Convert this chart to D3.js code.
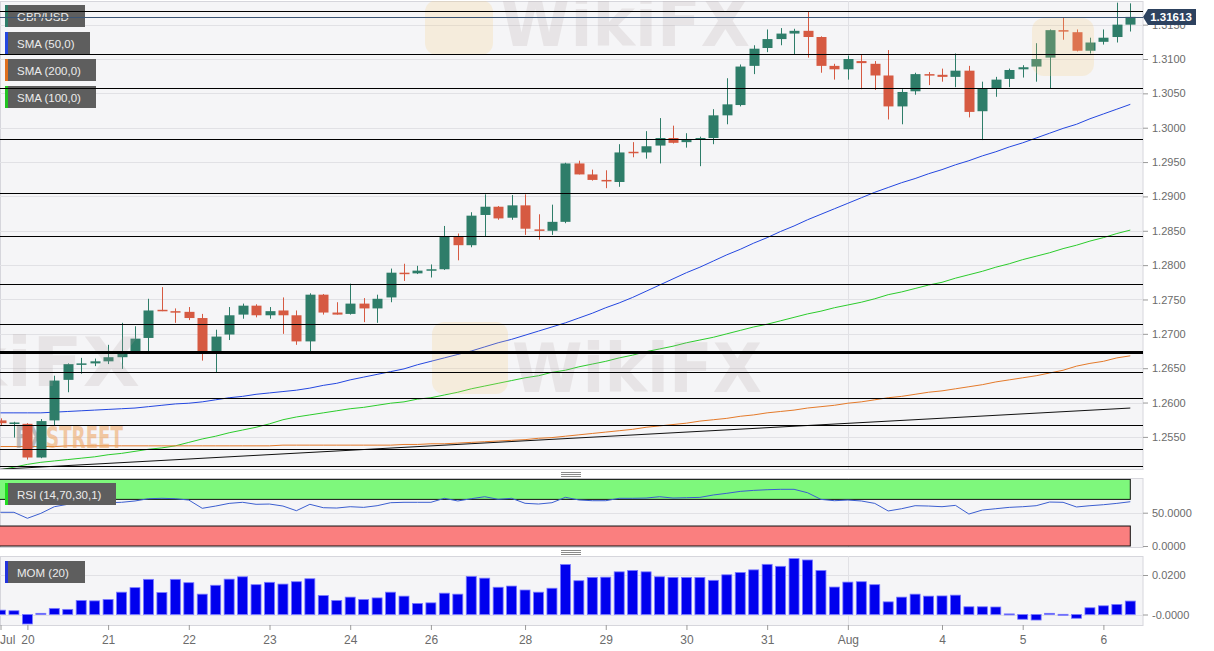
<!DOCTYPE html>
<html>
<head>
<meta charset="utf-8">
<script src="https://cdn.jsdelivr.net/npm/d3@7"></script>
<style>
  html, body { margin: 0; padding: 0; background: #fff; }
  svg { display: block; font-family: "Liberation Sans", Arial, sans-serif; }
  .axis path.domain { display: none; }
  .axis line { stroke: #9a9a9a; }
  .axis text { fill: #6b6b6b; font-size: 11px; }
</style>
</head>
<body>
<svg id="chart" width="1214" height="651"></svg>
<script>
// GBP/USD 4h candles, Jul 20 - Aug 6
const opens = [1.2574,1.2570,1.2569,1.2520,1.2574,1.2633,1.2656,1.2657,1.2660,1.2666,
  1.2674,1.2694,1.2735,1.2733,1.2732,1.2723,1.2674,1.2699,1.2728,1.2741,
  1.2727,1.2734,1.2727,1.2689,1.2757,1.2731,1.2729,1.2744,1.2737,1.2753,
  1.2789,1.2788,1.2792,1.2794,1.2841,1.2829,1.2873,1.2885,1.2869,1.2887,
  1.2852,1.2850,1.2863,1.2948,1.2932,1.2924,1.2921,1.2965,1.2964,1.2974,
  1.2985,1.2979,1.2984,1.2985,1.3018,1.3033,1.3090,1.3116,1.3129,1.3137,
  1.3141,1.3132,1.3090,1.3085,1.3097,1.3093,1.3076,1.3031,1.3053,1.3078,
  1.3077,1.3074,1.3083,1.3024,1.3057,1.3071,1.3085,1.3089,1.3102,1.3142,
  1.3139,1.3112,1.3125,1.3132,1.3150];
const highs = [1.2577,1.2572,1.2570,1.2576,1.2639,1.2657,1.2665,1.2664,1.2684,1.2716,
  1.2711,1.2751,1.2768,1.2737,1.2739,1.2729,1.2706,1.2739,1.2744,1.2743,
  1.2739,1.2753,1.2734,1.2759,1.2758,1.2746,1.2773,1.2752,1.2757,1.2795,
  1.2802,1.2799,1.2801,1.2857,1.2846,1.2877,1.2903,1.2886,1.2902,1.2903,
  1.2874,1.2888,1.2949,1.2952,1.2939,1.2938,1.2976,1.2979,1.2995,1.3014,
  1.3003,1.2992,1.2987,1.3027,1.3072,1.3092,1.3120,1.3143,1.3145,1.3144,
  1.3169,1.3133,1.3093,1.3105,1.3106,1.3097,1.3113,1.3056,1.3080,1.3081,
  1.3086,1.3108,1.3090,1.3067,1.3074,1.3086,1.3091,1.3123,1.3143,1.3161,
  1.3143,1.3131,1.3143,1.3182,1.3181];
const lows = [1.2566,1.2549,1.2517,1.2519,1.2566,1.2615,1.2642,1.2653,1.2656,1.2649,
  1.2671,1.2675,1.2733,1.2716,1.2720,1.2661,1.2644,1.2691,1.2722,1.2724,
  1.2722,1.2700,1.2684,1.2675,1.2728,1.2728,1.2728,1.2717,1.2716,1.2746,
  1.2777,1.2787,1.2782,1.2793,1.2807,1.2826,1.2842,1.2866,1.2866,1.2844,
  1.2837,1.2844,1.2861,1.2932,1.2923,1.2912,1.2914,1.2957,1.2955,1.2948,
  1.2977,1.2971,1.2944,1.2976,1.3005,1.3031,1.3078,1.3110,1.3120,1.3106,
  1.3102,1.3080,1.3070,1.3070,1.3056,1.3055,1.3012,1.3005,1.3048,1.3062,
  1.3067,1.3059,1.3015,1.2982,1.3045,1.3059,1.3073,1.3067,1.3057,1.3128,
  1.3111,1.3108,1.3121,1.3124,1.3140];
const closes = [1.2570,1.2571,1.2520,1.2573,1.2632,1.2656,1.2657,1.2660,1.2666,1.2671,
  1.2693,1.2734,1.2733,1.2731,1.2723,1.2674,1.2696,1.2727,1.2741,1.2727,
  1.2733,1.2727,1.2689,1.2757,1.2731,1.2728,1.2744,1.2737,1.2751,1.2789,
  1.2787,1.2792,1.2794,1.2841,1.2829,1.2872,1.2885,1.2868,1.2887,1.2853,
  1.2850,1.2863,1.2948,1.2932,1.2924,1.2922,1.2964,1.2963,1.2973,1.2985,
  1.2978,1.2983,1.2985,1.3018,1.3034,1.3089,1.3115,1.3129,1.3137,1.3141,
  1.3132,1.3090,1.3085,1.3100,1.3094,1.3076,1.3031,1.3052,1.3078,1.3077,
  1.3074,1.3083,1.3023,1.3057,1.3070,1.3084,1.3088,1.3100,1.3142,1.3140,
  1.3112,1.3124,1.3131,1.3150,1.31613];

const sma50 = [1.2585,1.2585,1.2585,1.2585,1.2586,1.2587,1.2588,1.2589,1.2590,1.2591,
  1.2592,1.2594,1.2596,1.2598,1.2599,1.2601,1.2604,1.2607,1.2609,1.2612,
  1.2614,1.2616,1.2618,1.2621,1.2625,1.2628,1.2633,1.2637,1.2641,1.2645,
  1.2649,1.2655,1.2660,1.2665,1.2670,1.2675,1.2681,1.2687,1.2692,1.2698,
  1.2704,1.2710,1.2716,1.2723,1.2730,1.2738,1.2745,1.2753,1.2762,1.2771,
  1.2780,1.2789,1.2797,1.2806,1.2815,1.2823,1.2832,1.2840,1.2849,1.2857,
  1.2866,1.2874,1.2882,1.2890,1.2898,1.2906,1.2913,1.2920,1.2926,1.2933,
  1.2939,1.2946,1.2952,1.2959,1.2965,1.2972,1.2978,1.2985,1.2992,1.2999,
  1.3005,1.3013,1.3020,1.3027,1.3034];
const sma100 = [1.2502,1.2506,1.2510,1.2513,1.2515,1.2517,1.2519,1.2521,1.2524,1.2526,
  1.2529,1.2532,1.2534,1.2537,1.2542,1.2547,1.2551,1.2556,1.2560,1.2564,
  1.2569,1.2575,1.2579,1.2582,1.2585,1.2588,1.2591,1.2593,1.2596,1.2599,
  1.2601,1.2605,1.2607,1.2611,1.2615,1.2620,1.2624,1.2628,1.2632,1.2636,
  1.2639,1.2644,1.2647,1.2652,1.2656,1.2660,1.2665,1.2669,1.2674,1.2678,
  1.2682,1.2687,1.2691,1.2695,1.2700,1.2705,1.2710,1.2714,1.2719,1.2724,
  1.2729,1.2733,1.2738,1.2742,1.2746,1.2751,1.2757,1.2761,1.2766,1.2771,
  1.2775,1.2781,1.2786,1.2791,1.2797,1.2802,1.2808,1.2813,1.2818,1.2824,
  1.2829,1.2835,1.2840,1.2846,1.2851];
const sma200 = [1.2536,1.2536,1.2536,1.2536,1.2536,1.2537,1.2537,1.2537,1.2537,1.2537,
  1.2537,1.2537,1.2537,1.2537,1.2537,1.2537,1.2537,1.2537,1.2537,1.2537,
  1.2537,1.2538,1.2538,1.2538,1.2538,1.2538,1.2538,1.2538,1.2538,1.2538,
  1.2539,1.2539,1.2540,1.2540,1.2541,1.2542,1.2543,1.2544,1.2545,1.2546,
  1.2548,1.2549,1.2551,1.2553,1.2555,1.2557,1.2559,1.2561,1.2564,1.2566,
  1.2568,1.2570,1.2573,1.2575,1.2577,1.2580,1.2582,1.2585,1.2587,1.2589,
  1.2592,1.2594,1.2596,1.2599,1.2601,1.2604,1.2607,1.2609,1.2612,1.2615,
  1.2617,1.2620,1.2623,1.2626,1.2630,1.2633,1.2636,1.2639,1.2643,1.2647,
  1.2653,1.2657,1.2660,1.2665,1.2668];

const rsi = [50.6,50.6,41.6,49,59,62.6,64,64,65,65.6,
  67.6,71,71.6,71,69,56.6,60,64,65.6,62.6,
  63,60,53,62.6,57.5,57,59,58,60.5,65,
  65.6,65.6,65.6,71.6,67.6,71,74,70.1,71.6,64.1,
  63,65,73.1,69.1,68,68,71.6,71.6,72,74,
  72,72.5,73,76.6,79.1,82,83.5,84.5,85.1,85.1,
  80,70,68,69,67.6,64,52.6,56,60.5,60,
  59,61,48,54,56,58,59,60.5,66,65.6,
  58.6,60.5,62,64,66.5];
const mom = [0.0022,0.0019,-0.0048,0.0006,0.0031,0.0026,0.0071,0.0069,0.0076,0.0113,
  0.0136,0.0178,0.0111,0.0178,0.0161,0.0103,0.0148,0.0179,0.0191,0.0151,
  0.0163,0.0154,0.0166,0.0181,0.0096,0.0071,0.0088,0.0076,0.0084,0.0113,
  0.0093,0.0056,0.0059,0.0108,0.0103,0.0193,0.0184,0.0138,0.0144,0.0124,
  0.0113,0.0133,0.0253,0.0171,0.0188,0.0189,0.0216,0.0223,0.0216,0.0191,
  0.0188,0.0188,0.0188,0.0173,0.0201,0.0213,0.0226,0.0254,0.0244,0.0283,
  0.0276,0.0223,0.0139,0.0164,0.0166,0.0151,0.0064,0.0088,0.0103,0.0093,
  0.0094,0.0098,0.0039,0.0039,0.0038,0.0003,-0.0024,-0.0028,0.0006,0.0001,
  -0.0019,0.0034,0.0044,0.0051,0.0068];

// horizontal levels drawn on the chart
const levels = [1.3170,1.3107,1.3058,1.2983,1.2905,1.2842,1.2772,1.2715,1.2644,1.2607,1.2568,1.2533,1.2507];
const boldLevel = 1.2673;
const trendIdx = [0, 84];
const trendVal = [1.2503, 1.2592];
const lastPrice = 1.31613;

const priceTicks = [1.2550,1.2600,1.2650,1.2700,1.2750,1.2800,1.2850,1.2900,1.2950,1.3000,1.3050,1.3100,1.3150];
const rsiTicks = [0, 50];
const momTicks = [0, 0.02];
const dayIdx = [0, 2, 8, 14, 20, 26, 32, 39, 45, 51, 57, 63, 70, 76, 82];
const dayLabels = ["Jul", "20", "21", "22", "23", "24", "26", "28", "29", "30", "31", "Aug", "4", "5", "6"];
const monthIdx = 63;

const legendLabels = ["GBP/USD", "SMA (50,0)", "SMA (200,0)", "SMA (100,0)"];
const legendColors = ["#2e7d69", "#2447e0", "#e0701e", "#22c422"];

// layout
const plotRight = 1143;
const mainTop = 1, mainBottom = 469;
const rsiTop = 478, rsiBottom = 547;
const momTop = 556, momBottom = 625;

const UP = "#2e7d69", DOWN = "#d65a42";

const svg = d3.select("#chart");

const x = d3.scaleLinear().domain([0, 84]).range([0.5, 1130.3]);
const y = d3.scaleLinear().domain([1.2550, 1.3100]).range([436.9, 59]);
const yRsi = d3.scaleLinear().domain([0, 100]).range([546, 479.4]);
const yMom = d3.scaleLinear().domain([0, 0.02]).range([614.5, 575]);

// panels + clip paths
const defs = svg.append("defs");
[["clipMain", mainTop, mainBottom], ["clipRsi", rsiTop, rsiBottom], ["clipMom", momTop, momBottom]].forEach(([id, t, b]) => {
    svg.append("rect")
        .attr("x", 0.5).attr("y", t + 0.5)
        .attr("width", plotRight - 0.5).attr("height", b - t)
        .attr("fill", "#f5f5f7").attr("stroke", "#d6d6dc");
    defs.append("clipPath").attr("id", id)
        .append("rect").attr("x", 0).attr("y", t).attr("width", plotRight).attr("height", b - t);
});

// gridlines
const grid = svg.append("g").attr("stroke", "#e1e1e5").attr("stroke-width", 1);
priceTicks.forEach(v => grid.append("line")
    .attr("x1", 0).attr("x2", plotRight).attr("y1", Math.round(y(v)) + 0.5).attr("y2", Math.round(y(v)) + 0.5));
grid.append("line").attr("x1", 0).attr("x2", plotRight)
    .attr("y1", Math.round(yRsi(50)) + 0.5).attr("y2", Math.round(yRsi(50)) + 0.5);
momTicks.forEach(v => grid.append("line")
    .attr("x1", 0).attr("x2", plotRight).attr("y1", Math.round(yMom(v)) + 0.5).attr("y2", Math.round(yMom(v)) + 0.5));
[[mainTop, mainBottom], [rsiTop, rsiBottom], [momTop, momBottom]].forEach(([t, b]) => {
    grid.append("line").attr("x1", Math.round(x(monthIdx)) + 0.5).attr("x2", Math.round(x(monthIdx)) + 0.5)
        .attr("y1", t).attr("y2", b);
});

// ── main price panel ──────────────────────────
const main = svg.append("g").attr("clip-path", "url(#clipMain)");

const line = arr => d3.line().x((d, i) => x(i)).y(d => y(d))(arr);

main.append("path").attr("d", line(sma100)).attr("fill", "none").attr("stroke", "#2ccc2c").attr("stroke-width", 1);
main.append("path").attr("d", line(sma200)).attr("fill", "none").attr("stroke", "#e47a2a").attr("stroke-width", 1);
main.append("path").attr("d", line(sma50)).attr("fill", "none").attr("stroke", "#2447e0").attr("stroke-width", 1);
main.append("line")
    .attr("x1", x(trendIdx[0])).attr("y1", y(trendVal[0]))
    .attr("x2", x(trendIdx[1])).attr("y2", y(trendVal[1]))
    .attr("stroke", "#111").attr("stroke-width", 1);

// FXStreet mark, as two pieces side by side
[["FX", 15, 30, "#8d8d8d"], ["STREET", 46, 77, "#eea35e"]].forEach(([t, tx, tw, col]) => {
    main.append("text").attr("x", tx).attr("y", 448)
        .attr("font-family", "'Liberation Sans Narrow', 'DejaVu Sans Condensed', sans-serif")
        .attr("font-weight", "bold").attr("font-size", 30).attr("opacity", 0.55)
        .attr("textLength", tw).attr("lengthAdjust", "spacingAndGlyphs")
        .attr("fill", col).text(t);
});

// candles
const candles = main.append("g");
opens.forEach((o, i) => {
    const c = closes[i];
    const col = c >= o ? UP : DOWN;
    const cx = Math.round(x(i)) + 0.5;
    candles.append("line")
        .attr("x1", cx).attr("x2", cx)
        .attr("y1", y(highs[i])).attr("y2", y(lows[i]))
        .attr("stroke", col).attr("stroke-width", 1);
    const top = y(Math.max(o, c)), bot = y(Math.min(o, c));
    candles.append("rect")
        .attr("x", cx - 5).attr("width", 10)
        .attr("y", top).attr("height", Math.max(1.5, bot - top))
        .attr("fill", col);
});

// watermarks (faint)
const wm = svg.append("g").attr("pointer-events", "none").attr("clip-path", "url(#clipMain)");
[[425, 0, 68, 55], [432, 322, 76, 72], [1032, 18, 62, 58]].forEach(([lx, ly, lw, lh]) => {
    wm.append("rect").attr("x", lx).attr("y", ly).attr("width", lw).attr("height", lh).attr("rx", 12)
        .attr("fill", "#f4cf80").attr("opacity", 0.22);
});
[[500, 46, 250], [512, 392, 250], [-150, 386, 290]].forEach(([tx, ty, tw]) => {
    wm.append("text").attr("x", tx).attr("y", ty)
        .attr("font-family", "'DejaVu Sans', sans-serif").attr("font-weight", "bold").attr("font-size", 68)
        .attr("textLength", tw).attr("lengthAdjust", "spacingAndGlyphs")
        .attr("fill", "#b3a4a4").attr("opacity", 0.2).text("WikiFX");
});

// legend boxes (drawn under the level lines, like the original)
const legendW = [80, 85, 91, 91];
legendLabels.forEach((lab, i) => legend(5 + i * 27, legendW[i], lab, legendColors[i]));

function legend(top, w, label, color) {
    const g = svg.append("g").attr("transform", `translate(5,${top})`);
    g.append("rect").attr("width", w).attr("height", 22).attr("fill", "#5e5e5e");
    g.append("rect").attr("width", 3).attr("height", 22).attr("fill", color);
    g.append("text").attr("x", 12).attr("y", 15.5)
        .attr("fill", "#ececec").attr("font-size", 11.5).text(label);
}

// level lines
const lv = svg.append("g").attr("clip-path", "url(#clipMain)");
levels.forEach(v => lv.append("line")
    .attr("x1", 0).attr("x2", plotRight)
    .attr("y1", Math.round(y(v)) + 0.5).attr("y2", Math.round(y(v)) + 0.5)
    .attr("stroke", "#000").attr("stroke-width", 1.2));
lv.append("line").attr("x1", 0).attr("x2", plotRight)
    .attr("y1", y(boldLevel)).attr("y2", y(boldLevel))
    .attr("stroke", "#000").attr("stroke-width", 3);
lv.append("line").attr("x1", 0).attr("x2", plotRight)
    .attr("y1", Math.round(y(lastPrice)) + 0.5).attr("y2", Math.round(y(lastPrice)) + 0.5)
    .attr("stroke", "#3a5474").attr("stroke-width", 1);

// price axis
svg.append("g").attr("class", "axis")
    .attr("transform", `translate(${plotRight},0)`)
    .call(d3.axisRight(y).tickValues(priceTicks).tickSize(5).tickPadding(4).tickFormat(d3.format(".4f")))
    .attr("font-family", null).attr("font-size", null);

// last price marker
const yp = Math.round(y(lastPrice));
svg.append("path")
    .attr("d", `M${plotRight},${yp} L${plotRight + 5},${yp - 8} H1196 V${yp + 8} H${plotRight + 5} Z`)
    .attr("fill", "#2d425f");
svg.append("text").attr("x", 1171).attr("y", yp + 4)
    .attr("text-anchor", "middle").attr("fill", "#fff")
    .attr("font-size", 11.5).attr("font-weight", "bold").text(lastPrice.toFixed(5));

// ── RSI panel ──────────────────────────
const rp = svg.append("g").attr("clip-path", "url(#clipRsi)");
rp.append("rect").attr("x", -2).attr("width", x(84) + 2)
    .attr("y", yRsi(100)).attr("height", yRsi(70) - yRsi(100))
    .attr("fill", "#7ef87c").attr("stroke", "#111");
rp.append("rect").attr("x", -2).attr("width", x(84) + 2)
    .attr("y", yRsi(30)).attr("height", yRsi(0) - yRsi(30))
    .attr("fill", "#fa7f7f").attr("stroke", "#111");
rp.append("path")
    .attr("d", d3.line().x((d, i) => x(i)).y(d => yRsi(d))(rsi))
    .attr("fill", "none").attr("stroke", "#3b5ed0").attr("stroke-width", 1);
legend(483, 111, "RSI (14,70,30,1)", "#22dd22");

svg.append("g").attr("class", "axis")
    .attr("transform", `translate(${plotRight},0)`)
    .call(d3.axisRight(yRsi).tickValues(rsiTicks).tickSize(5).tickPadding(4).tickFormat(d3.format(".4f")))
    .attr("font-family", null).attr("font-size", null);

// ── MOM panel ──────────────────────────
const mp = svg.append("g").attr("clip-path", "url(#clipMom)");
mom.forEach((v, i) => {
    const y0 = yMom(0), y1 = yMom(v);
    mp.append("rect")
        .attr("x", x(i) - 5).attr("width", 10)
        .attr("y", Math.min(y0, y1)).attr("height", Math.max(1, Math.abs(y1 - y0)))
        .attr("fill", "#0000ee").attr("stroke", "#7b7bff").attr("stroke-width", 0.8);
});
legend(561, 80, "MOM (20)", "#2233dd");

svg.append("g").attr("class", "axis")
    .attr("transform", `translate(${plotRight},0)`)
    .call(d3.axisRight(yMom).tickValues(momTicks).tickSize(5).tickPadding(4)
        .tickFormat(d => d === 0 ? "-0.0000" : d.toFixed(4)))
    .attr("font-family", null).attr("font-size", null);

// panel resize handles
[474, 552].forEach(hy => {
    [-2, 0, 2].forEach(dy => svg.append("line")
        .attr("x1", 561).attr("x2", 581).attr("y1", hy + dy + 0.5).attr("y2", hy + dy + 0.5)
        .attr("stroke", "#8a8a8a").attr("stroke-width", 1));
});

// ── time axis ──────────────────────────
const xa = svg.append("g").attr("class", "axis")
    .attr("transform", `translate(0,${momBottom})`)
    .call(d3.axisBottom(x).tickValues(dayIdx).tickSize(5).tickPadding(5)
        .tickFormat((d, i) => dayLabels[i]))
    .attr("font-family", null).attr("font-size", null);
xa.selectAll("text").style("font-size", "12px");
xa.selectAll(".tick").filter((d, i) => i === 0).select("text").attr("text-anchor", "start").attr("x", -1);
</script>
</body>
</html>
